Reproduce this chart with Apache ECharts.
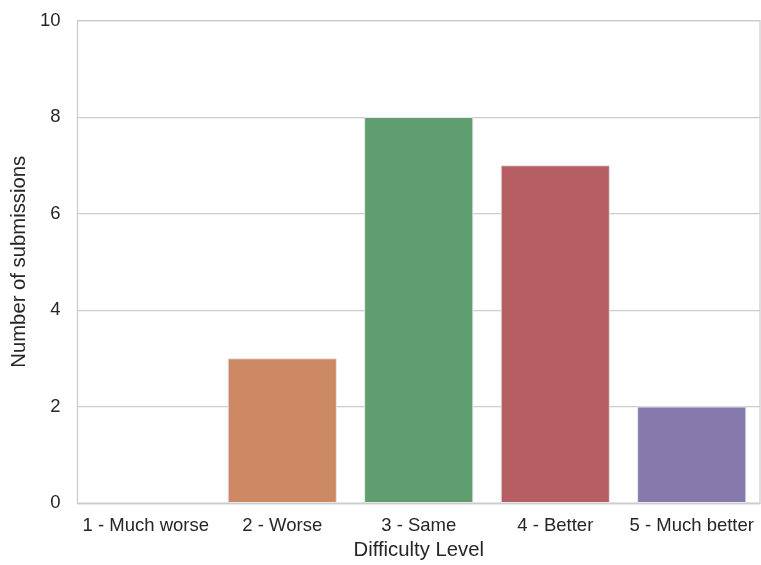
<!DOCTYPE html>
<html>
<head>
<meta charset="utf-8">
<style>
  html, body { margin: 0; padding: 0; background: #ffffff; }
  #chart { width: 761px; height: 565px; }
</style>
<script src="https://cdn.jsdelivr.net/npm/echarts@6/dist/echarts.min.js"></script>
</head>
<body>
<div id="chart"></div>
<script>
// Survey responses: how difficult the new version felt compared to the old one
const categories = ['1 - Much worse', '2 - Worse', '3 - Same', '4 - Better', '5 - Much better'];
const submissions = [0, 3, 8, 7, 2];
const barColors = ['#5875A4', '#CC8963', '#5F9E6E', '#B55D60', '#857AAB'];

const chart = echarts.init(document.getElementById('chart'), null, { renderer: 'canvas' });

const textColor = '#262626';
const gridColor = '#cccccc';
const fontFamily = 'Liberation Sans, Arial, sans-serif';

chart.setOption({
  backgroundColor: '#ffffff',
  animation: false,
  grid: { left: 77.5, right: 1, top: 20.5, bottom: 61, show: true, borderColor: gridColor, borderWidth: 1.25 },
  xAxis: {
    type: 'category',
    data: categories,
    name: 'Difficulty Level',
    nameLocation: 'middle',
    nameGap: 37,
    nameTextStyle: { color: textColor, fontSize: 20.3, fontFamily },
    axisLine: { show: true, lineStyle: { color: gridColor, width: 1.25 } },
    axisTick: { show: false },
    axisLabel: { color: textColor, fontSize: 18.5, fontFamily, margin: 13, interval: 0 },
    splitLine: { show: false }
  },
  yAxis: {
    type: 'value',
    min: 0,
    max: 10,
    interval: 2,
    name: 'Number of submissions',
    nameLocation: 'middle',
    nameGap: 47,
    nameTextStyle: { color: textColor, fontSize: 20.3, fontFamily },
    axisLine: { show: false },
    axisTick: { show: false },
    axisLabel: { color: textColor, fontSize: 18.5, fontFamily, margin: 17 },
    splitLine: { show: true, lineStyle: { color: gridColor, width: 1.25 } }
  },
  series: [{
    type: 'bar',
    data: submissions.map((v, i) => ({
      value: v,
      itemStyle: { color: barColors[i], borderWidth: v === 0 ? 0 : 1 }
    })),
    barWidth: '80%',
    itemStyle: { borderColor: '#e8e8ee' }
  }]
});
</script>
</body>
</html>
